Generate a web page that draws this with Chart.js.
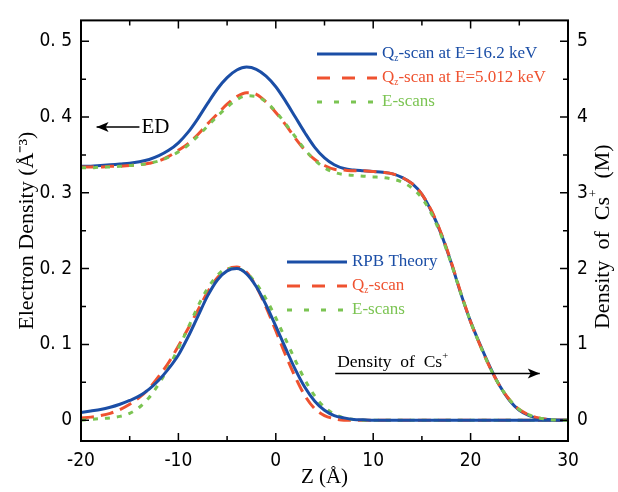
<!DOCTYPE html>
<html lang="en">
<head>
<meta charset="UTF-8">
<title>Electron density and Cs+ density profiles</title>
<script src="https://cdn.jsdelivr.net/npm/chart.js"></script>
<style>
  html, body { margin: 0; padding: 0; background: #fff; }
</style>
</head>
<body>
<canvas id="chart" width="618" height="492"></canvas>
<script>
// z positions (Å)
const zValues = [-20, -19, -18, -17, -16, -15, -14, -13, -12, -11,
                 -10, -9, -8, -7, -6, -5, -4, -3, -2, -1,
                 0, 1, 2, 3, 4, 5, 6, 7, 8, 9,
                 10, 11, 12, 13, 14, 15, 16, 17, 18, 19,
                 20, 21, 22, 23, 24, 25, 26, 27, 28, 29, 30];

// electron density (left axis)
const edQz16 = [0.335, 0.335, 0.336, 0.337, 0.338, 0.339, 0.341, 0.344, 0.349, 0.356,
                0.366, 0.380, 0.398, 0.418, 0.437, 0.452, 0.462, 0.466, 0.463, 0.454,
                0.440, 0.421, 0.400, 0.379, 0.360, 0.346, 0.337, 0.332, 0.330, 0.329,
                0.328, 0.327, 0.325, 0.320, 0.312, 0.298, 0.275, 0.245, 0.208, 0.167,
                0.130, 0.099, 0.070, 0.045, 0.026, 0.013, 0.006, 0.002, 0.001, 0, 0];
const edQz5 = [0.334, 0.334, 0.334, 0.335, 0.335, 0.336, 0.337, 0.339, 0.342, 0.348,
               0.356, 0.365, 0.377, 0.391, 0.404, 0.417, 0.427, 0.432, 0.430, 0.420,
               0.406, 0.390, 0.372, 0.356, 0.344, 0.336, 0.331, 0.330, 0.329, 0.329,
               0.328, 0.327, 0.325, 0.320, 0.312, 0.298, 0.276, 0.246, 0.209, 0.168,
               0.130, 0.098, 0.069, 0.045, 0.027, 0.014, 0.007, 0.003, 0.001, 0, 0];
const edEscan = [0.333, 0.333, 0.334, 0.334, 0.335, 0.336, 0.337, 0.339, 0.342, 0.347,
                 0.354, 0.363, 0.375, 0.388, 0.401, 0.413, 0.423, 0.428, 0.427, 0.420,
                 0.407, 0.391, 0.374, 0.357, 0.343, 0.333, 0.327, 0.324, 0.323, 0.322,
                 0.321, 0.320, 0.318, 0.314, 0.306, 0.293, 0.272, 0.243, 0.207, 0.167,
                 0.130, 0.098, 0.069, 0.045, 0.027, 0.014, 0.007, 0.003, 0.001, 0, 0];

// Cs+ density (right axis, M)
const csTheory = [0.10, 0.12, 0.14, 0.17, 0.21, 0.26, 0.32, 0.41, 0.53, 0.68,
                  0.86, 1.10, 1.37, 1.64, 1.85, 1.97, 2.00, 1.93, 1.76, 1.52,
                  1.24, 0.95, 0.67, 0.43, 0.25, 0.13, 0.06, 0.03, 0.01, 0.005,
                  0, 0, 0, 0, 0, 0, 0, 0, 0, 0,
                  0, 0, 0, 0, 0, 0, 0, 0, 0, 0, 0];
const csQz = [0.03, 0.04, 0.06, 0.09, 0.14, 0.21, 0.30, 0.42, 0.58, 0.76,
              0.98, 1.21, 1.45, 1.69, 1.88, 1.99, 2.02, 1.95, 1.76, 1.49,
              1.18, 0.86, 0.57, 0.32, 0.15, 0.06, 0.02, 0, 0, 0,
              0, 0, 0, 0, 0, 0, 0, 0, 0, 0,
              0, 0, 0, 0, 0, 0, 0, 0, 0, 0, 0];
const csEscan = [0.00, 0.01, 0.02, 0.03, 0.05, 0.09, 0.17, 0.30, 0.48, 0.70,
                 0.95, 1.22, 1.50, 1.74, 1.91, 2.00, 2.00, 1.94, 1.80, 1.60,
                 1.35, 1.07, 0.79, 0.53, 0.32, 0.17, 0.08, 0.03, 0.01, 0,
                 0, 0, 0, 0, 0, 0, 0, 0, 0, 0,
                 0, 0, 0, 0, 0, 0, 0, 0, 0, 0, 0];

// ticks
const xTickValues = [-20, -10, 0, 10, 20, 30];
const xMinorTicks = [-15, -5, 5, 15, 25];
const edTickValues = [0, 0.1, 0.2, 0.3, 0.4, 0.5];
const edMinorTicks = [0.05, 0.15, 0.25, 0.35, 0.45];
const csTickValues = [0, 1, 2, 3, 4, 5];
const csMinorTicks = [0.5, 1.5, 2.5, 3.5, 4.5];

const BLUE = '#1b4ea6';
const RED = '#ef5230';
const GREEN = '#7bc452';
const SERIF = '"Liberation Serif", "Times New Roman", serif';
const tickFont = { family: '"Liberation Sans Narrow", "DejaVu Sans Condensed", "Arial Narrow", sans-serif', size: 19 };

function pts(ys) {
    return zValues.map((z, i) => ({ x: z, y: ys[i] }));
}

function line(label, ys, axis, color, dash, order) {
    return {
        label: label,
        data: pts(ys),
        yAxisID: axis,
        borderColor: color,
        borderWidth: 3,
        borderDash: dash,
        pointRadius: 0,
        fill: false,
        cubicInterpolationMode: 'monotone',
        order: order
    };
}

const datasets = [
    line('Qz-scan at E=16.2 keV', edQz16, 'y', BLUE, [], 3),
    line('Qz-scan at E=5.012 keV', edQz5, 'y', RED, [13, 7], 2),
    line('E-scans', edEscan, 'y', GREEN, [5, 7], 1),
    line('RPB Theory', csTheory, 'y1', BLUE, [], 1),
    line('Qz-scan', csQz, 'y1', RED, [13, 7], 3),
    line('E-scans', csEscan, 'y1', GREEN, [5, 7], 2)
];

function richText(ctx, x, y, parts, size) {
    parts.forEach(([txt, kind]) => {
        let fs = size, dy = 0;
        if (kind === 'sub') { fs = size * 0.55; dy = size * 0.28; }
        if (kind === 'sup') { fs = size * 0.6; dy = -size * 0.45; }
        ctx.font = fs + 'px ' + SERIF;
        ctx.fillText(txt, x, y + dy);
        x += ctx.measureText(txt).width;
    });
    return x;
}

function legendRow(ctx, x1, x2, y, color, dash, parts) {
    ctx.save();
    ctx.strokeStyle = color;
    ctx.lineWidth = 3;
    ctx.setLineDash(dash);
    ctx.beginPath();
    ctx.moveTo(x1, y);
    ctx.lineTo(x2, y);
    ctx.stroke();
    ctx.restore();
    ctx.fillStyle = color;
    ctx.textBaseline = 'middle';
    ctx.textAlign = 'left';
    richText(ctx, x2 + 5, y, parts, 17);
}

function arrow(ctx, x1, x2, y, head) {
    ctx.strokeStyle = '#000';
    ctx.fillStyle = '#000';
    ctx.lineWidth = 1.5;
    ctx.setLineDash([]);
    ctx.beginPath();
    ctx.moveTo(x1, y);
    ctx.lineTo(x2, y);
    ctx.stroke();
    const dir = head === 'left' ? -1 : 1;
    const tip = head === 'left' ? x1 : x2;
    ctx.beginPath();
    ctx.moveTo(tip, y);
    ctx.lineTo(tip - dir * 12, y - 5);
    ctx.lineTo(tip - dir * 9, y);
    ctx.lineTo(tip - dir * 12, y + 5);
    ctx.closePath();
    ctx.fill();
}

const framePlugin = {
    id: 'frame',
    afterDatasetsDraw(chart) {
        const { ctx, chartArea: a, scales } = chart;
        ctx.save();
        // frame
        ctx.strokeStyle = '#000';
        ctx.lineWidth = 2;
        ctx.strokeRect(a.left, a.top, a.right - a.left, a.bottom - a.top);
        // inward ticks
        ctx.lineWidth = 1.5;
        ctx.beginPath();
        const tick = (x1, y1, x2, y2) => { ctx.moveTo(x1, y1); ctx.lineTo(x2, y2); };
        xTickValues.forEach(v => {
            const px = scales.x.getPixelForValue(v);
            tick(px, a.bottom, px, a.bottom - 8);
            tick(px, a.top, px, a.top + 8);
        });
        xMinorTicks.forEach(v => {
            const px = scales.x.getPixelForValue(v);
            tick(px, a.bottom, px, a.bottom - 5);
            tick(px, a.top, px, a.top + 5);
        });
        edTickValues.forEach(v => {
            const py = scales.y.getPixelForValue(v);
            tick(a.left, py, a.left + 8, py);
        });
        edMinorTicks.forEach(v => {
            const py = scales.y.getPixelForValue(v);
            tick(a.left, py, a.left + 5, py);
        });
        csTickValues.forEach(v => {
            const py = scales.y1.getPixelForValue(v);
            tick(a.right, py, a.right - 8, py);
        });
        csMinorTicks.forEach(v => {
            const py = scales.y1.getPixelForValue(v);
            tick(a.right, py, a.right - 5, py);
        });
        ctx.stroke();

        // legends
        legendRow(ctx, 317, 377, 54, BLUE, [], [['Q', ''], ['z', 'sub'], ['-scan at E=16.2 keV', '']]);
        legendRow(ctx, 317, 377, 78, RED, [13, 12], [['Q', ''], ['z', 'sub'], ['-scan at E=5.012 keV', '']]);
        legendRow(ctx, 317, 377, 102, GREEN, [5, 12], [['E-scans', '']]);
        legendRow(ctx, 287, 347, 262, BLUE, [], [['RPB Theory', '']]);
        legendRow(ctx, 287, 347, 286, RED, [13, 12], [['Q', ''], ['z', 'sub'], ['-scan', '']]);
        legendRow(ctx, 287, 347, 310, GREEN, [5, 12], [['E-scans', '']]);

        // ED arrow
        const xs = scales.x, ys = scales.y, y1s = scales.y1;
        const edY = ys.getPixelForValue(0.387);
        arrow(ctx, xs.getPixelForValue(-18.4), xs.getPixelForValue(-14.0), edY, 'left');
        ctx.fillStyle = '#000';
        ctx.textBaseline = 'middle';
        ctx.font = '21px ' + SERIF;
        ctx.fillText('ED', xs.getPixelForValue(-13.8), edY + 1);

        // Cs arrow
        const csY = y1s.getPixelForValue(0.615);
        arrow(ctx, xs.getPixelForValue(6.1), xs.getPixelForValue(27.1), csY, 'right');
        ctx.fillStyle = '#000';
        ctx.textBaseline = 'alphabetic';
        richText(ctx, xs.getPixelForValue(6.3), csY - 7, [['Density  of  Cs', ''], ['+', 'sup']], 17.5);

        // right axis title
        ctx.save();
        ctx.translate(603, (a.top + a.bottom) / 2 + 6);
        ctx.rotate(-Math.PI / 2);
        ctx.textBaseline = 'middle';
        const parts = [['Density  of  Cs', ''], ['+', 'sup'], ['  (M)', '']];
        let w = 0;
        parts.forEach(([t, k]) => {
            ctx.font = (k ? 22 * 0.6 : 22) + 'px ' + SERIF;
            w += ctx.measureText(t).width;
        });
        ctx.fillStyle = '#000';
        richText(ctx, -w / 2, 0, parts, 22);
        ctx.restore();

        ctx.restore();
    }
};

new Chart(document.getElementById('chart'), {
    type: 'line',
    data: { datasets: datasets },
    options: {
        responsive: false,
        animation: false,
        layout: { padding: { top: 17, left: 0, right: 0, bottom: 0 } },
        plugins: { legend: { display: false }, tooltip: { enabled: false } },
        scales: {
            x: {
                type: 'linear',
                position: 'bottom',
                min: -20,
                max: 30,
                afterFit: s => { s.height = 51; },
                afterBuildTicks: s => { s.ticks = xTickValues.map(v => ({ value: v })); },
                grid: { display: false, drawTicks: false },
                border: { display: false },
                ticks: { padding: 9, color: '#000', font: tickFont, maxRotation: 0, callback: v => String(v) },
                title: { display: true, text: 'Z (Å)', color: '#000', font: { family: SERIF, size: 21 }, padding: { top: 0, bottom: 2 } }
            },
            y: {
                type: 'linear',
                position: 'left',
                min: -0.0275,
                max: 0.5275,
                afterFit: s => { s.width = 81; },
                afterBuildTicks: s => { s.ticks = edTickValues.map(v => ({ value: v })); },
                grid: { display: false, drawTicks: false },
                border: { display: false },
                ticks: { padding: 9, color: '#000', font: tickFont, callback: v => v === 0 ? '0' : v.toFixed(1).replace('.', '. ') },
                title: { display: true, text: 'Electron Density (Å⁻³)', color: '#000', font: { family: SERIF, size: 22 }, padding: { top: 14, bottom: 0 } }
            },
            y1: {
                type: 'linear',
                position: 'right',
                min: -0.275,
                max: 5.275,
                afterFit: s => { s.width = 50; },
                afterBuildTicks: s => { s.ticks = csTickValues.map(v => ({ value: v })); },
                grid: { display: false, drawTicks: false },
                border: { display: false },
                ticks: { padding: 9, color: '#000', font: tickFont, callback: v => String(v) }
            }
        }
    },
    plugins: [framePlugin]
});
</script>
</body>
</html>
